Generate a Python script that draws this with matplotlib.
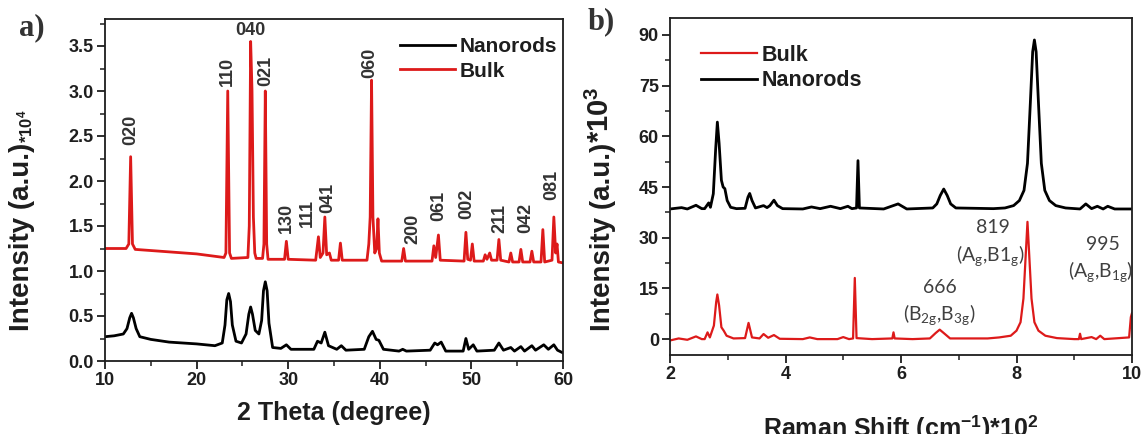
import matplotlib
matplotlib.use("Agg")
import matplotlib.pyplot as plt
from matplotlib.ticker import MultipleLocator

plt.rcParams['font.family'] = ['Liberation Sans', 'DejaVu Sans']
plt.rcParams['mathtext.fontset'] = 'custom'
plt.rcParams['mathtext.rm'] = 'Lato'
plt.rcParams['mathtext.it'] = 'Lato:italic'
plt.rcParams['mathtext.bf'] = 'Liberation Sans:bold'

INK = '#1e1e1e'
RED = '#dd1a1a'

# ---- a) XRD, 2 theta (degree) vs intensity (a.u.)*10^4
xrd_bulk_x = [10, 12.3, 12.6, 12.8, 13.0, 13.3, 16, 20, 23.0, 23.2, 23.4, 23.6, 23.8,
              25.6, 25.75, 25.9, 26.05, 26.2, 26.35, 26.5, 27.2, 27.35, 27.5, 27.65, 27.8,
              29.6, 29.8, 30.0, 33.0, 33.3, 33.5, 33.8, 34.0, 34.2, 34.5, 34.7, 35.5, 35.7,
              35.9, 38.6, 38.8, 38.95, 39.1, 39.25, 39.45, 39.65, 39.8, 39.95, 40.2, 42.4,
              42.6, 42.8, 45.7, 45.9, 46.1, 46.4, 46.6, 49.2, 49.4, 49.6, 49.9, 50.1, 50.3,
              51.3, 51.5, 51.7, 52.0, 52.2, 52.8, 53.0, 53.2, 54.1, 54.3, 54.5, 55.2, 55.4,
              55.6, 56.4, 56.6, 56.8, 57.6, 57.8, 58.0, 58.8, 59.0, 59.2, 59.35, 59.5, 60]
xrd_bulk_y = [1.25, 1.25, 1.30, 2.27, 1.30, 1.24, 1.22, 1.19, 1.15, 1.20, 3.00, 1.20, 1.14,
              1.15, 1.50, 3.55, 3.00, 1.60, 1.20, 1.14, 1.14, 1.30, 3.00, 1.30, 1.13,
              1.13, 1.33, 1.13, 1.12, 1.38, 1.15, 1.20, 1.60, 1.18, 1.20, 1.12, 1.12, 1.31,
              1.12, 1.12, 1.30, 1.60, 3.12, 1.60, 1.20, 1.25, 1.58, 1.20, 1.11, 1.11,
              1.25, 1.11, 1.11, 1.28, 1.15, 1.40, 1.12, 1.11, 1.43, 1.13, 1.12, 1.30, 1.11,
              1.11, 1.18, 1.13, 1.20, 1.12, 1.12, 1.35, 1.12, 1.10, 1.20, 1.10, 1.10, 1.24,
              1.10, 1.10, 1.22, 1.10, 1.10, 1.46, 1.10, 1.12, 1.60, 1.20, 1.30, 1.10, 1.09]

xrd_nano_x = [10, 11, 12, 12.4, 12.7, 12.9, 13.1, 13.4, 13.8, 15, 17, 20, 22, 22.8, 23.1,
              23.3, 23.5, 23.7, 23.9, 24.3, 24.9, 25.4, 25.7, 25.9, 26.1, 26.4, 26.8, 27.1,
              27.3, 27.5, 27.7, 27.9, 28.3, 29.2, 29.8, 30.3, 32.8, 33.2, 33.6, 34.0, 34.4,
              35.3, 35.8, 36.3, 38.3, 38.8, 39.2, 39.6, 39.9, 40.4, 42.1, 42.5, 42.9, 45.5,
              46.0, 46.3, 46.7, 47.2, 49.1, 49.4, 49.7, 50.2, 50.6, 52.5, 53.0, 53.5, 54.3,
              54.7, 55.4, 55.8, 56.6, 57.0, 57.9, 58.4, 59.0, 59.4, 60]
xrd_nano_y = [0.27, 0.28, 0.30, 0.36, 0.48, 0.53, 0.48, 0.36, 0.27, 0.24, 0.21, 0.19, 0.17,
              0.20, 0.40, 0.68, 0.75, 0.66, 0.40, 0.22, 0.20, 0.30, 0.52, 0.60, 0.52, 0.34,
              0.30, 0.45, 0.78, 0.88, 0.78, 0.42, 0.15, 0.14, 0.18, 0.13, 0.13, 0.22, 0.20,
              0.32, 0.17, 0.13, 0.17, 0.12, 0.13, 0.27, 0.33, 0.24, 0.23, 0.13, 0.11, 0.13,
              0.11, 0.12, 0.20, 0.18, 0.21, 0.11, 0.11, 0.25, 0.13, 0.18, 0.11, 0.12, 0.20,
              0.12, 0.15, 0.11, 0.16, 0.11, 0.17, 0.12, 0.18, 0.13, 0.18, 0.12, 0.09]

xrd_labels = ['020', '110', '021', '130', '111', '041', '060', '200', '061', '002',
              '211', '042', '081']
xrd_label_x = [12.8, 23.4, 27.5, 29.8, 32.1, 34.3, 38.9, 43.6, 46.4, 49.5, 53.1, 55.9, 58.8]
xrd_label_y = [2.40, 3.05, 3.05, 1.42, 1.49, 1.64, 3.15, 1.30, 1.56, 1.58, 1.42, 1.42, 1.79]
top_label, top_label_x, top_label_y = '040', 25.9, 3.67

# ---- b) Raman, shift (cm-1)*10^2 vs intensity (a.u.)*10^3
raman_bulk_x = [2.0, 2.15, 2.3, 2.45, 2.55, 2.6, 2.65, 2.69, 2.76, 2.8, 2.82, 2.85, 2.89,
                2.93, 2.98, 3.1, 3.3, 3.36, 3.42, 3.55, 3.62, 3.7, 3.8, 3.9, 4.3, 4.42,
                4.55, 4.9, 5.0, 5.1, 5.17, 5.2, 5.23, 5.5, 5.85, 5.87, 5.89, 6.2, 6.5, 6.6,
                6.67, 6.74, 6.85, 7.5, 7.7, 7.9, 8.0, 8.07, 8.12, 8.16, 8.19, 8.22, 8.26,
                8.31, 8.38, 8.5, 8.7, 9.0, 9.08, 9.1, 9.12, 9.3, 9.38, 9.45, 9.52, 9.95,
                9.98, 10.0]
raman_bulk_y = [-0.4, 0.2, -0.2, 0.8, 0.0, 0.0, 2.0, 0.5, 4.0, 11.0, 13.2, 10.0, 3.5,
                2.5, 1.0, 0.2, 0.3, 4.8, 0.5, 0.2, 1.5, 0.4, 1.2, 0.1, 0.0, 0.5,
                0.0, 0.0, 0.6, 0.0, 0.2, 18.1, 0.3, 0.0, 0.2, 2.0, 0.2, 0.0, 0.2, 1.8,
                2.8, 1.8, 0.2, 0.2, 0.5, 1.0, 2.5, 5.0, 12.0, 25.0, 34.7, 25.0, 12.0,
                5.0, 2.5, 1.0, 0.3, 0.0, 0.0, 1.6, 0.0, 0.6, 0.0, 1.0, 0.0, 0.5,
                6.5, 7.7]

raman_nano_x = [2.0, 2.2, 2.3, 2.45, 2.55, 2.6, 2.67, 2.7, 2.75, 2.79, 2.82, 2.85, 2.89,
                2.92, 2.95, 2.99, 3.05, 3.15, 3.3, 3.35, 3.38, 3.42, 3.48, 3.62, 3.68, 3.73,
                3.8, 3.86, 3.95, 4.3, 4.45, 4.6, 4.78, 4.95, 5.08, 5.15, 5.23, 5.255, 5.28,
                5.7, 5.95, 6.1, 6.55, 6.62, 6.68, 6.74, 6.8, 6.86, 6.95, 7.6, 7.8,
                7.95, 8.05, 8.13, 8.19, 8.24, 8.28, 8.31, 8.34, 8.38, 8.43, 8.49, 8.57,
                8.68, 8.85, 9.1, 9.2, 9.3, 9.4, 9.5, 9.58, 9.7, 10.0]
raman_nano_y = [38.5, 38.9, 38.5, 39.6, 38.6, 38.6, 40.3, 39.0, 43.0, 56.0, 64.2, 58.0, 47.0,
                45.0, 44.5, 41.0, 39.0, 38.6, 38.7, 42.0, 43.1, 41.0, 38.8, 39.5, 38.9, 39.5,
                41.1, 39.5, 38.6, 38.5, 39.1, 38.6, 39.3, 38.6, 39.3, 38.6, 38.8, 52.8,
                38.8, 38.5, 40.0, 38.5, 38.8, 40.0, 42.5, 44.4, 42.5, 40.0, 38.8, 38.6, 38.8,
                39.5, 41.0, 44.0, 52.0, 70.0, 85.0, 88.5, 85.0, 70.0, 52.0, 44.0, 41.0,
                39.5, 38.8, 38.5, 40.0, 38.6, 39.3, 38.5, 39.3, 38.5, 38.5]

raman_notes = ['819', '(A$_{\\mathrm{g}}$,B1$_{\\mathrm{g}}$)', '995',
               '(A$_{\\mathrm{g}}$,B$_{\\mathrm{1g}}$)', '666',
               '(B$_{\\mathrm{2g}}$,B$_{\\mathrm{3g}}$)']
raman_note_x = [7.59, 7.55, 9.49, 9.45, 6.67, 6.67]
raman_note_y = [32.9, 24.6, 28.0, 20.0, 15.2, 7.2]

W, H = 1148, 434
fig = plt.figure(figsize=(W / 100, H / 100), dpi=100)


def px_axes(l, r, t, b):
    return fig.add_axes([l / W, (H - b) / H, (r - l) / W, (b - t) / H])


def style(ax):
    for s in ax.spines.values():
        s.set_linewidth(1.3)
        s.set_color(INK)
    ax.tick_params(which='major', direction='out', length=6, width=1.3, color=INK,
                   labelsize=13, labelcolor=INK, pad=2)
    ax.tick_params(which='minor', direction='out', length=3.5, width=1.1, color=INK)
    for lab in ax.get_xticklabels() + ax.get_yticklabels():
        lab.set_fontweight('bold')


# panel a
ax1 = px_axes(105, 563, 19, 361)
ax1.plot(xrd_nano_x, xrd_nano_y, color='black', lw=2.0, label='Nanorods')
ax1.plot(xrd_bulk_x, xrd_bulk_y, color=RED, lw=2.0, label='Bulk')
ax1.set_xlim(10, 60)
ax1.set_ylim(0, 3.8)
ax1.xaxis.set_major_locator(MultipleLocator(10))
ax1.xaxis.set_minor_locator(MultipleLocator(5))
ax1.yaxis.set_major_locator(MultipleLocator(0.5))
ax1.yaxis.set_minor_locator(MultipleLocator(0.25))
ax1.yaxis.set_major_formatter(matplotlib.ticker.FormatStrFormatter('%.1f'))
style(ax1)
for t, x, y in zip(xrd_labels, xrd_label_x, xrd_label_y):
    ax1.text(x, y, t, rotation=90, ha='center', va='bottom', fontsize=13,
             fontweight='bold', color='#333333')
ax1.text(top_label_x, top_label_y, top_label, ha='center', va='center', fontsize=13,
         fontweight='bold', color='#333333')
leg1 = ax1.legend(loc='upper left', bbox_to_anchor=(390 / W, (H - 27) / H),
                  bbox_transform=fig.transFigure, frameon=False, borderpad=0,
                  handlelength=2.6, handletextpad=0.25, labelspacing=0.25,
                  prop={'size': 15, 'weight': 'bold'})
for txt in leg1.get_texts():
    txt.set_color(INK)

# panel b
ax2 = px_axes(670, 1132, 18, 355)
ax2.plot(raman_bulk_x, raman_bulk_y, color=RED, lw=1.6, label='Bulk')
ax2.plot(raman_nano_x, raman_nano_y, color='black', lw=2.0, label='Nanorods')
ax2.set_xlim(2, 10)
ax2.set_ylim(-4.7, 95)
ax2.xaxis.set_major_locator(MultipleLocator(2))
ax2.xaxis.set_minor_locator(MultipleLocator(1))
ax2.yaxis.set_major_locator(MultipleLocator(15))
ax2.yaxis.set_minor_locator(MultipleLocator(7.5))
style(ax2)
for t, x, y in zip(raman_notes, raman_note_x, raman_note_y):
    ax2.text(x, y, t, ha='center', va='center', fontsize=14, color='#404040',
             family='Lato')
leg2 = ax2.legend(loc='upper left', bbox_to_anchor=(690 / W, (H - 34) / H),
                  bbox_transform=fig.transFigure, frameon=False, borderpad=0,
                  handlelength=2.6, handletextpad=0.25, labelspacing=0.2,
                  prop={'size': 15.5, 'weight': 'bold'})
for txt in leg2.get_texts():
    txt.set_color(INK)

# axis titles and panel letters
fig.text(334 / W, 1 - 420 / H, '2 Theta (degree)', ha='center', va='baseline',
         fontsize=18, fontweight='bold', color=INK)
fig.text(901 / W, 1 - 437 / H, 'Raman Shift (cm$^{\\mathbf{-1}}$)*10$^{\\mathbf{2}}$',
         ha='center', va='baseline', fontsize=18, fontweight='bold', color=INK)

yl1 = fig.text(22 / W, 1 - 331 / H, 'Intensity (a.u.)', rotation=90, ha='center',
               va='bottom', fontsize=20, fontweight='bold', color=INK)
yl2 = fig.text(603 / W, 1 - 331 / H, 'Intensity (a.u.)', rotation=90, ha='center',
               va='bottom', fontsize=20, fontweight='bold', color=INK)
fig.canvas.draw()
r = fig.canvas.get_renderer()
top1 = yl1.get_window_extent(r).y1
top2 = yl2.get_window_extent(r).y1
fig.text(25 / W, top1 / H, '*10$^{\\mathbf{4}}$', rotation=90, ha='center',
         va='bottom', fontsize=12, fontweight='bold', color=INK)
fig.text(601 / W, top2 / H, '*10$^{\\mathbf{3}}$', rotation=90, ha='center',
         va='bottom', fontsize=21, fontweight='bold', color=INK)

fig.text(32 / W, 1 - 28 / H, 'a)', ha='center', va='center', fontsize=22,
         fontweight='bold', family='Liberation Serif', color='#333333')
fig.text(601 / W, 1 - 22 / H, 'b)', ha='center', va='center', fontsize=22,
         fontweight='bold', family='Liberation Serif', color='#333333')

fig.savefig('out.png', dpi=100)
